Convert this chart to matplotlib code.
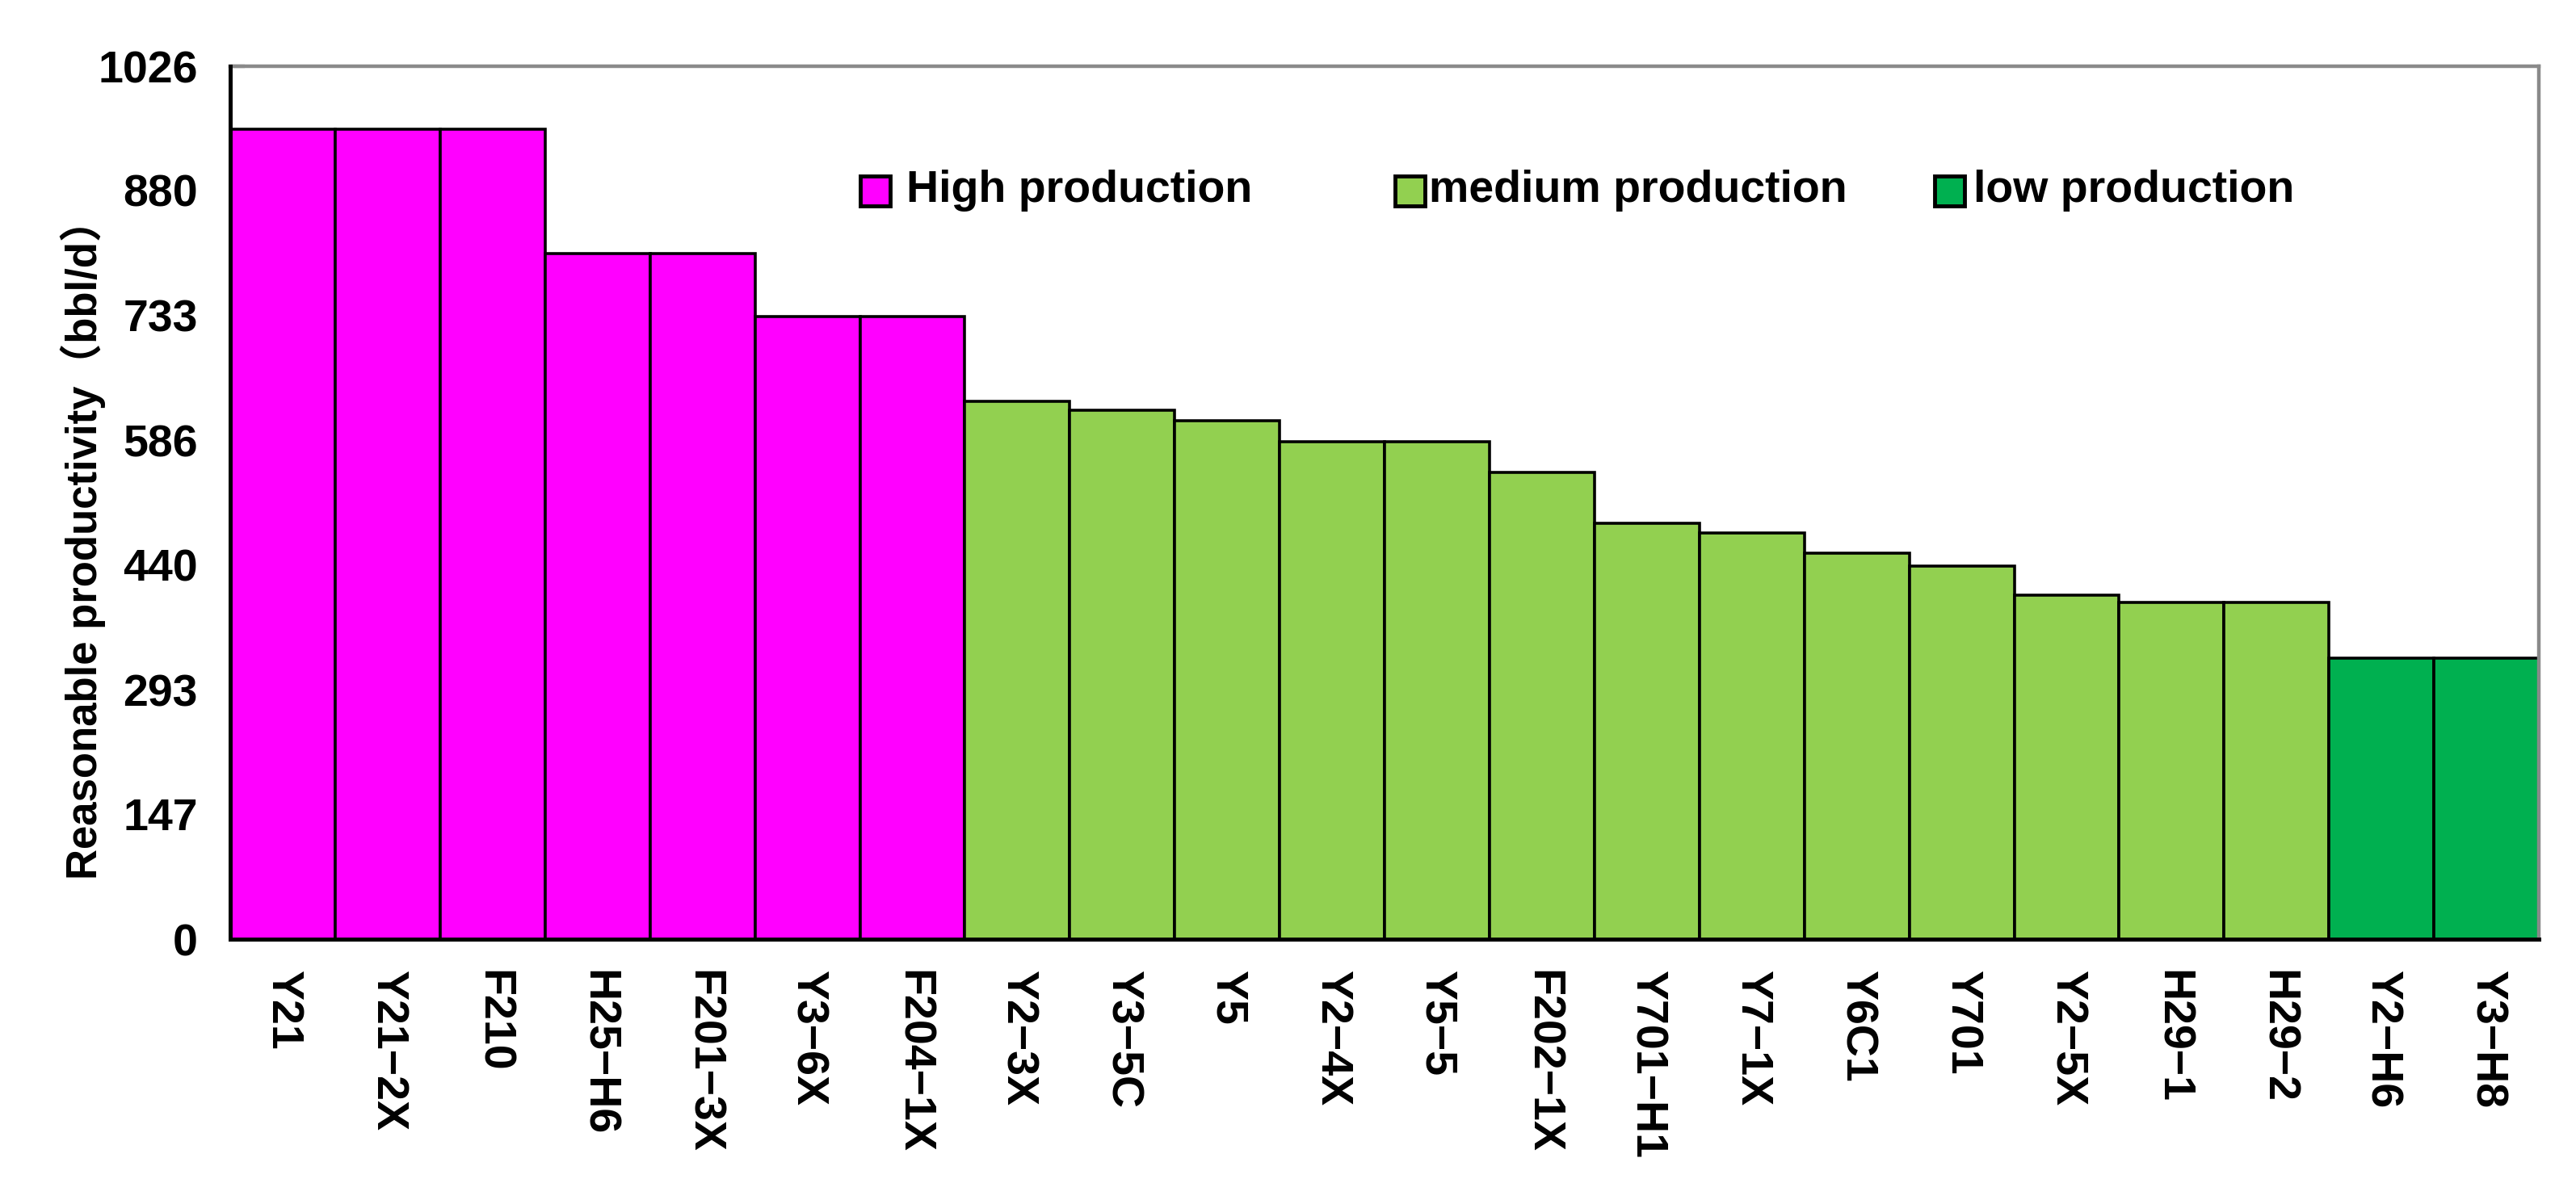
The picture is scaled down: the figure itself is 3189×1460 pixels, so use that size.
import matplotlib
matplotlib.use("Agg")
import matplotlib.pyplot as plt
from matplotlib.patches import Rectangle

wells = ["Y21", "Y21\u22122X", "F210", "H25\u2212H6", "F201\u22123X", "Y3\u22126X", "F204\u22121X",
         "Y2\u22123X", "Y3\u22125C", "Y5", "Y2\u22124X", "Y5\u22125", "F202\u22121X", "Y701\u2212H1",
         "Y7\u22121X", "Y6C1", "Y701", "Y2\u22125X", "H29\u22121", "H29\u22122", "Y2\u2212H6", "Y3\u2212H8"]
productivity = [952, 952, 952, 806, 806, 732, 732,
                632, 622, 609, 585, 585, 549, 489,
                477, 454, 439, 404, 396, 396, 330, 330]
grade = ["high"] * 7 + ["medium"] * 13 + ["low"] * 2
yticks = [0, 147, 293, 440, 586, 733, 880, 1026]

colors = {"high": "#FF00FF", "medium": "#92D050", "low": "#00B050"}
legend_labels = {"high": "High production", "medium": "medium production", "low": "low production"}

FONT = ["Liberation Sans", "DejaVu Sans"]

fig = plt.figure(figsize=(31.89, 14.60), dpi=100)
ax = fig.add_axes([0.0894, 0.2034, 0.8962, 0.7404])

x = list(range(len(wells)))
ax.bar(x, productivity, width=1.0, color=[colors[g] for g in grade],
       edgecolor="black", linewidth=2.6, zorder=2)

ax.set_xlim(-0.5, len(wells) - 0.5)
ax.set_ylim(0, 1026)
ax.set_yticks(yticks)
ax.set_yticklabels([str(v) for v in yticks], fontsize=40, fontweight="bold", family=FONT)
ax.set_xticks(x)
ax.set_xticklabels(wells, rotation=270, fontsize=40, fontweight="bold",
                   family=FONT, va="top", ha="center")
ax.tick_params(axis="y", direction="in", length=13, width=3, pad=29)
ax.tick_params(axis="x", length=0, pad=27)

for s in ["left", "bottom"]:
    ax.spines[s].set_linewidth(3.6)
    ax.spines[s].set_color("black")
    ax.spines[s].set_zorder(3)
for s in ["top", "right"]:
    ax.spines[s].set_linewidth(3.2)
    ax.spines[s].set_color("#8a8a8a")

ax.set_ylabel("Reasonable productivity\uff08bbl/d\uff09", fontsize=38, fontweight="bold",
              family=["Liberation Sans", "Noto Sans CJK SC", "DejaVu Sans"])
ax.yaxis.set_label_coords(-0.054, 0.458)

leg_sq = {"high": 0.2729, "medium": 0.5045, "low": 0.7383}
leg_tx = {"high": 0.2928, "medium": 0.5192, "low": 0.7551}
for key in ["high", "medium", "low"]:
    ax.add_patch(Rectangle((leg_sq[key], 0.840), 0.0129, 0.0342, transform=ax.transAxes,
                           facecolor=colors[key], edgecolor="black", linewidth=3.5, zorder=5))
    ax.text(leg_tx[key], 0.8576, legend_labels[key], transform=ax.transAxes,
            fontsize=40, fontweight="bold", va="center", ha="left",
            family=FONT, zorder=5)

fig.savefig("out.png", dpi=100)
